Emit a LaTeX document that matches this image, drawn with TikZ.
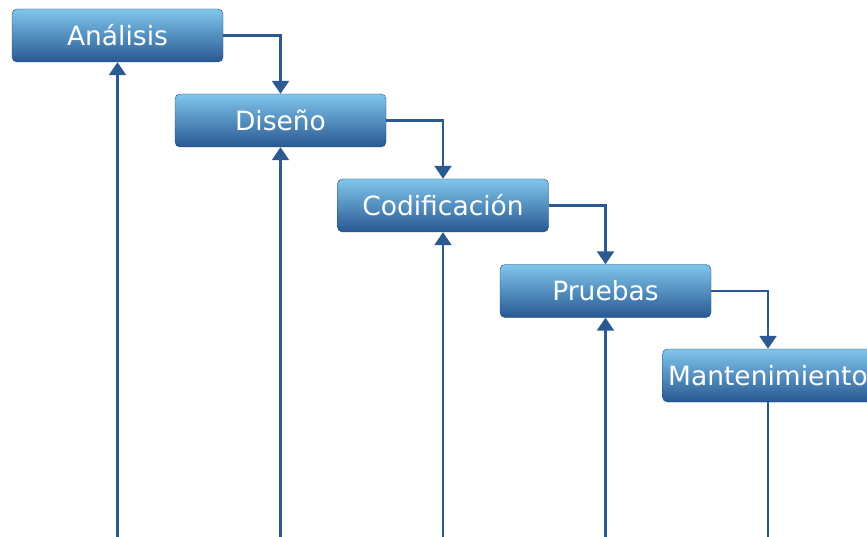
\documentclass[tikz,border=0pt]{standalone}
\usepackage{fontspec}
\setmainfont{DejaVu Sans}
\usetikzlibrary{arrows.meta}
\usetikzlibrary{positioning}
\definecolor{phasetop}{RGB}{128,198,236}
\definecolor{phasebot}{RGB}{40,88,146}
\definecolor{linkblue}{RGB}{42,90,143}

\begin{document}
\begin{tikzpicture}[
  x=1pt, y=-1pt,
  > = {Triangle[length=13pt,width=17pt]},
  phase/.style = {rounded corners=5pt, minimum width=211pt, minimum height=53pt,
    inner sep=0pt, top color=phasetop, bottom color=phasebot, draw=phasebot!80!black, line width=0.4pt,
    text=white, font=\fontsize{26.5}{30}\selectfont},
  link/.style = {draw=linkblue, line width=2.4pt}
  ]
	\clip (0,0) rectangle (867,537);

	\node[phase] (ana) at (117.5,35.5) {Análisis};
	\node[phase] (dis) at (280.5,120.5) {Diseño};
	\node[phase] (cod) at (443,205.5) {Codificación};
	\node[phase] (pru) at (605.5,291) {Pruebas};
	\node[phase] (man) at (768,375.5) {Mantenimiento};

	\coordinate (ana-b) at (ana.south |- 0,540);
	\coordinate (dis-b) at (dis.south |- 0,540);
	\coordinate (cod-b) at (cod.south |- 0,540);
	\coordinate (pru-b) at (pru.south |- 0,540);
	\coordinate (man-b) at (man.south |- 0,540);

	\draw[link,->] (ana.east) -| (dis.north);
	\draw[link,->] (dis.east) -| (cod.north);
	\draw[link,->] (cod.east) -| (pru.north);
	\draw[link,->] (pru.east) -| (man.north);

	\draw[link,->] (ana-b) -- (ana.south);
	\draw[link,->] (dis-b) -- (dis.south);
	\draw[link,->] (cod-b) -- (cod.south);
	\draw[link,->] (pru-b) -- (pru.south);
	\draw[link] (man-b) -- (man.south);

\end{tikzpicture}
\end{document}
